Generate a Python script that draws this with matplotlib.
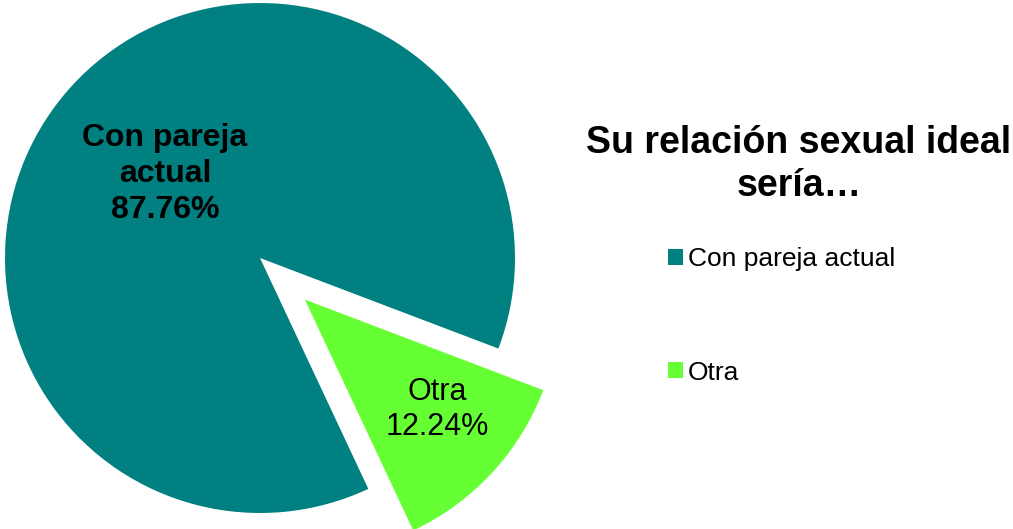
import matplotlib
matplotlib.use('Agg')
import matplotlib.pyplot as plt

# data
labels = ['Con pareja actual', 'Otra']
pct_labels = ['Con pareja\nactual', 'Otra']
values = [87.76, 12.24]
colors = ['#008080', '#66FF33']

plt.rcParams['font.family'] = ['Liberation Sans', 'DejaVu Sans']

fig = plt.figure(figsize=(10.13, 5.29), dpi=100)

# pie area: centre at (260, 258) px, radius 255 px
r = 255.0
cx, cy = 260.0, 258.0
ax = fig.add_axes([0, 0, 520 / 1013, 1])
wedges, _ = ax.pie(values, colors=colors, startangle=-20.8, counterclock=True,
                   explode=[0, 0.24], radius=1, wedgeprops=dict(linewidth=0))
ax.set_xlim(-cx / r, (520 - cx) / r)
ax.set_ylim(-(529 - cy) / r, cy / r)
ax.set_aspect('auto')
ax.axis('off')

# slice labels
ax.text(-0.373, 0.33, '%s\n%.2f%%' % (pct_labels[0], values[0]), ha='center', va='center',
        fontsize=23, fontweight='bold', color='black', linespacing=1.27)
ax.text(0.694, -0.595, '%s\n%.2f%%' % (pct_labels[1], values[1]), ha='center', va='center',
        fontsize=22, color='black', linespacing=1.2)

# title
fig.text(799 / 1013, 1 - 164 / 529, 'Su relación sexual ideal\nsería…', ha='center', va='center',
         fontsize=27, fontweight='bold', multialignment='center', linespacing=1.25)

# legend
fig.legend(wedges, labels, loc='upper left', bbox_to_anchor=(668 / 1013, 1 - 247 / 529),
           frameon=False, fontsize=19, handlelength=0.55, handleheight=0.55,
           handletextpad=0.2, labelspacing=3.4, borderpad=0, borderaxespad=0)

plt.savefig('out.png', dpi=100)
